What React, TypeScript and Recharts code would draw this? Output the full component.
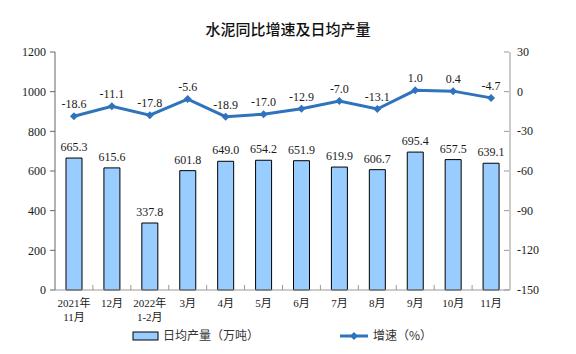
import {
  Bar,
  ComposedChart,
  LabelList,
  Legend,
  Line,
  XAxis,
  YAxis
} from "recharts";

const months = [
  "2021年\n11月",
  "12月",
  "2022年\n1-2月",
  "3月",
  "4月",
  "5月",
  "6月",
  "7月",
  "8月",
  "9月",
  "10月",
  "11月"
];
const dailyOutput = [665.3, 615.6, 337.8, 601.8, 649.0, 654.2, 651.9, 619.9, 606.7, 695.4, 657.5, 639.1];
const growthRate = [-18.6, -11.1, -17.8, -5.6, -18.9, -17.0, -12.9, -7.0, -13.1, 1.0, 0.4, -4.7];
const leftTicks = [0, 200, 400, 600, 800, 1000, 1200];
const rightTicks = [-150, -120, -90, -60, -30, 0, 30];

const chartData = months.map((month, i) => ({
  month,
  output: dailyOutput[i],
  growth: growthRate[i]
}));

const WIDTH = 576;
const HEIGHT = 354;
const LEFT_W = 55;
const RIGHT_W = 66;
const BAND = (WIDTH - LEFT_W - RIGHT_W) / months.length;

const SERIF = "'Liberation Serif', 'Noto Sans CJK SC', serif";
const BAR_FILL = "#99ccff";
const LINE_COLOR = "#2f73bd";

const MonthTick = (props: any) => {
  const { x, y, payload, index } = props;
  const lines = String(payload.value).split("\n");
  return (
    <g>
      {index < months.length - 1 && (
        <line x1={x + BAND / 2} x2={x + BAND / 2} y1={y} y2={y - 5} stroke="#999" />
      )}
      <text x={x} y={y + 17} textAnchor="middle" fontSize={11} fill="#1a1a1a" fontFamily={SERIF}>
        {lines.map((line, i) => (
          <tspan key={i} x={x} dy={i === 0 ? 0 : 14}>
            {line}
          </tspan>
        ))}
      </text>
    </g>
  );
};

const RightTick = (props: any) => {
  const { x, y, payload } = props;
  return (
    <g>
      <line x1={x - 8} x2={x - 13} y1={y} y2={y} stroke="#999" />
      <text x={x} y={y + 4} fontSize={12} fill="#1a1a1a" fontFamily={SERIF}>
        {payload.value}
      </text>
    </g>
  );
};

const LegendContent = () => (
  <div style={{ position: "relative", height: 20, fontSize: 12, color: "#333" }}>
    <svg width={WIDTH} height={20} style={{ position: "absolute", left: 0, top: 0 }}>
      <rect x={133} y={6} width={25} height={8} fill={BAR_FILL} stroke="#000" strokeWidth={1} />
      <text x={163} y={14} fontSize={12} fill="#333" fontFamily="'Noto Sans CJK SC', sans-serif">
        日均产量（万吨）
      </text>
      <line x1={340} x2={368} y1={10} y2={10} stroke={LINE_COLOR} strokeWidth={3} />
      <path d="M354 6 L358 10 L354 14 L350 10 Z" fill={LINE_COLOR} />
      <text x={373} y={14} fontSize={12} fill="#333" fontFamily="'Noto Sans CJK SC', sans-serif">
        增速（%）
      </text>
    </svg>
  </div>
);

const Diamond = (props: any) => {
  const { cx, cy } = props;
  if (cx == null || cy == null) return null;
  return <path d={`M${cx} ${cy - 4} L${cx + 4} ${cy} L${cx} ${cy + 4} L${cx - 4} ${cy} Z`} fill={LINE_COLOR} />;
};

export default function App() {
  return (
    <div
      style={{
        position: "absolute",
        left: 0,
        top: 0,
        width: WIDTH,
        height: HEIGHT,
        background: "#fff"
      }}
    >
      <div
        style={{
          position: "absolute",
          top: 18,
          left: 0,
          width: WIDTH,
          textAlign: "center",
          fontSize: 15,
          fontWeight: 500,
          color: "#111",
          fontFamily: "'Noto Sans CJK SC', sans-serif"
        }}
      >
        水泥同比增速及日均产量
      </div>
      <ComposedChart
        width={WIDTH}
        height={HEIGHT}
        data={chartData}
        margin={{ top: 52, right: 0, bottom: 8, left: 0 }}
      >
        <XAxis
          dataKey="month"
          axisLine={{ stroke: "#999" }}
          tickLine={false}
          tickSize={0}
          tickMargin={0}
          height={36}
          interval={0}
          tick={<MonthTick />}
        />
        <YAxis
          yAxisId="left"
          domain={[0, 1200]}
          ticks={leftTicks}
          width={LEFT_W}
          axisLine={{ stroke: "#666" }}
          tickLine={{ stroke: "#666" }}
          tickSize={5}
          tickMargin={4}
          tick={{ fontSize: 12, fill: "#1a1a1a", fontFamily: SERIF }}
        />
        <YAxis
          yAxisId="right"
          orientation="right"
          domain={[-150, 30]}
          ticks={rightTicks}
          width={RIGHT_W}
          axisLine={{ stroke: "#999" }}
          tickLine={false}
          tickSize={0}
          tickMargin={7}
          tick={<RightTick />}
        />
        <Legend verticalAlign="bottom" content={<LegendContent />} wrapperStyle={{ left: 0, width: WIDTH }} />
        <Bar
          yAxisId="left"
          dataKey="output"
          name="日均产量（万吨）"
          fill={BAR_FILL}
          stroke="#000"
          strokeWidth={1}
          barSize={16}
          isAnimationActive={false}
        >
          <LabelList
            dataKey="output"
            position="top"
            offset={7}
            formatter={(v: any) => Number(v).toFixed(1)}
            style={{ fontSize: 12, fill: "#1a1a1a", fontFamily: SERIF }}
          />
        </Bar>
        <Line
          yAxisId="right"
          dataKey="growth"
          name="增速（%）"
          stroke={LINE_COLOR}
          strokeWidth={3}
          dot={<Diamond />}
          activeDot={false}
          isAnimationActive={false}
        >
          <LabelList
            dataKey="growth"
            position="top"
            offset={8}
            formatter={(v: any) => Number(v).toFixed(1)}
            style={{ fontSize: 12, fill: "#1a1a1a", fontFamily: SERIF }}
          />
        </Line>
      </ComposedChart>
    </div>
  );
}
